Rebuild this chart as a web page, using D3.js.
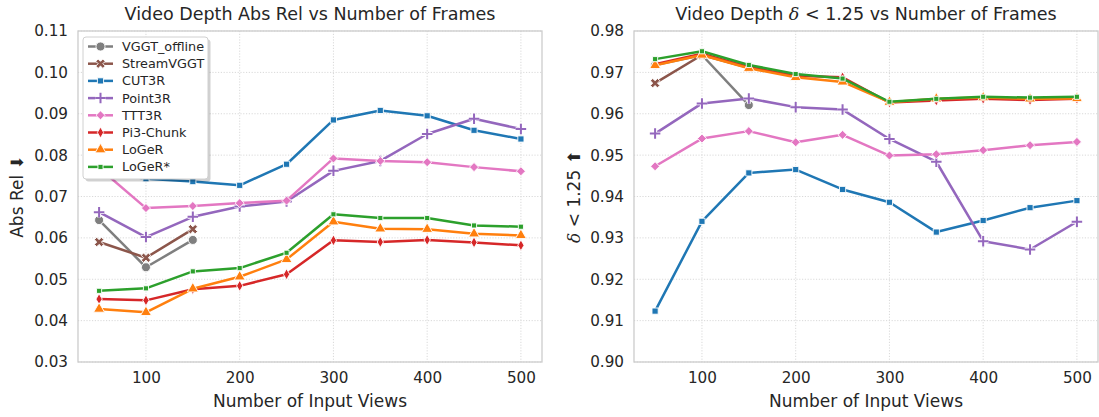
<!DOCTYPE html>
<html>
<head>
<meta charset="utf-8">
<script src="https://cdn.jsdelivr.net/npm/d3@7"></script>
<style>
  html, body { margin: 0; padding: 0; background: #fff; }
  svg { display: block; font-family: "DejaVu Sans", sans-serif; }
</style>
</head>
<body>
<svg id="chart" width="1099" height="417"></svg>
<script>
// ---------------- data ----------------
const views = [50, 100, 150, 200, 250, 300, 350, 400, 450, 500];
const methods = ["VGGT_offline", "StreamVGGT", "CUT3R", "Point3R", "TTT3R", "Pi3-Chunk", "LoGeR", "LoGeR*"];
const colors = ["#7f7f7f", "#8c564b", "#1f77b4", "#9467bd", "#e377c2", "#d62728", "#ff7f0e", "#2ca02c"];
const markers = ["circle", "xfill", "square", "plus", "diamond", "thin", "triangle", "smallsquare"];
const xTicks = [100, 200, 300, 400, 500];
const absTicks = [0.03, 0.04, 0.05, 0.06, 0.07, 0.08, 0.09, 0.10, 0.11];
const deltaTicks = [0.90, 0.91, 0.92, 0.93, 0.94, 0.95, 0.96, 0.97, 0.98];

// Abs Rel (lower is better)
const absVGGT      = [0.0643, 0.0529, 0.0595, null, null, null, null, null, null, null];
const absStream    = [0.0590, 0.0552, 0.0621, null, null, null, null, null, null, null];
const absCUT3R     = [0.0760, 0.0743, 0.0736, 0.0727, 0.0778, 0.0885, 0.0908, 0.0895, 0.0860, 0.0839];
const absPoint3R   = [0.0662, 0.0602, 0.0651, 0.0676, 0.0688, 0.0762, 0.0786, 0.0851, 0.0888, 0.0863];
const absTTT3R     = [0.0769, 0.0672, 0.0677, 0.0684, 0.0690, 0.0792, 0.0786, 0.0783, 0.0771, 0.0761];
const absPi3       = [0.0452, 0.0449, 0.0476, 0.0484, 0.0512, 0.0594, 0.0590, 0.0595, 0.0589, 0.0582];
const absLoGeR     = [0.0428, 0.0420, 0.0477, 0.0506, 0.0548, 0.0639, 0.0622, 0.0621, 0.0610, 0.0606];
const absLoGeRStar = [0.0472, 0.0478, 0.0519, 0.0527, 0.0564, 0.0657, 0.0648, 0.0648, 0.0630, 0.0627];

// delta < 1.25 (higher is better)
const dVGGT      = [0.9718, 0.9742, 0.9621, null, null, null, null, null, null, null];
const dStream    = [0.9674, 0.9742, 0.9711, null, null, null, null, null, null, null];
const dCUT3R     = [0.9123, 0.9340, 0.9457, 0.9465, 0.9417, 0.9386, 0.9314, 0.9342, 0.9373, 0.9390];
const dPoint3R   = [0.9552, 0.9625, 0.9637, 0.9616, 0.9610, 0.9539, 0.9484, 0.9292, 0.9272, 0.9339];
const dTTT3R     = [0.9473, 0.9540, 0.9558, 0.9531, 0.9549, 0.9499, 0.9502, 0.9512, 0.9524, 0.9532];
const dPi3       = [0.9720, 0.9745, 0.9713, 0.9692, 0.9688, 0.9627, 0.9632, 0.9636, 0.9633, 0.9636];
const dLoGeR     = [0.9717, 0.9742, 0.9710, 0.9688, 0.9677, 0.9628, 0.9636, 0.9639, 0.9636, 0.9637];
const dLoGeRStar = [0.9732, 0.9751, 0.9718, 0.9696, 0.9685, 0.9629, 0.9636, 0.9641, 0.9639, 0.9641];

const absSeries = [absVGGT, absStream, absCUT3R, absPoint3R, absTTT3R, absPi3, absLoGeR, absLoGeRStar];
const deltaSeries = [dVGGT, dStream, dCUT3R, dPoint3R, dTTT3R, dPi3, dLoGeR, dLoGeRStar];

// ---------------- drawing ----------------
const svg = d3.select("#chart");
const textColor = "#262626";
const gridColor = "#d9d9d9";
const spineColor = "#cccccc";

function markerPath(kind) {
  switch (kind) {
    case "circle": return d3.symbol(d3.symbolCircle, 64)();
    case "xfill": return d3.symbol(d3.symbolCross, 56)();
    case "square": return d3.symbol(d3.symbolSquare, 38)();
    case "plus": return d3.symbol(d3.symbolPlus, 38)();
    case "diamond": return d3.symbol(d3.symbolDiamond2, 52)();
    case "thin": return d3.symbol(d3.symbolDiamond, 34)();
    case "triangle": return d3.symbol(d3.symbolTriangle, 52)();
    case "smallsquare": return d3.symbol(d3.symbolSquare, 26)();
  }
}

function drawMarker(g, kind, color, x, y) {
  const p = markerPath(kind);
  const rot = kind === "xfill" ? ` rotate(45)` : "";
  const t = `translate(${x},${y})${rot}`;
  if (kind === "plus") {
    g.append("path").attr("d", p).attr("transform", t)
      .attr("fill", "none").attr("stroke", "#fff").attr("stroke-width", 3.8);
    g.append("path").attr("d", p).attr("transform", t)
      .attr("fill", "none").attr("stroke", color).attr("stroke-width", 2);
  } else {
    g.append("path").attr("d", p).attr("transform", t)
      .attr("fill", color).attr("stroke", "#fff").attr("stroke-width", 0.9);
  }
}

function panel(opts) {
  const { left, right, top, bottom, yDomain, yTicks, series, title, ylabel, ylabelX } = opts;
  const x = d3.scaleLinear().domain([27.5, 522.5]).range([left, right]);
  const y = d3.scaleLinear().domain(yDomain).range([bottom, top]);
  const g = svg.append("g");

  // grid
  g.append("g").selectAll("line").data(xTicks).join("line")
    .attr("x1", d => x(d)).attr("x2", d => x(d)).attr("y1", top).attr("y2", bottom)
    .attr("stroke", gridColor).attr("stroke-width", 1).attr("stroke-dasharray", "1.2,1.6");
  g.append("g").selectAll("line").data(yTicks).join("line")
    .attr("x1", left).attr("x2", right).attr("y1", d => y(d)).attr("y2", d => y(d))
    .attr("stroke", gridColor).attr("stroke-width", 1).attr("stroke-dasharray", "1.2,1.6");

  // frame
  g.append("rect").attr("x", left).attr("y", top).attr("width", right - left).attr("height", bottom - top)
    .attr("fill", "none").attr("stroke", spineColor).attr("stroke-width", 1.3);

  // axes tick labels via d3 axes (no tick marks)
  const xAxis = d3.axisBottom(x).tickValues(xTicks).tickSize(0).tickPadding(10).tickFormat(d3.format("d"));
  const xg = g.append("g").attr("transform", `translate(0,${bottom})`).call(xAxis);
  xg.select(".domain").remove();
  xg.selectAll("text").attr("font-size", 15.2).attr("fill", textColor).attr("font-family", "DejaVu Sans");

  const yAxis = d3.axisLeft(y).tickValues(yTicks).tickSize(0).tickPadding(10).tickFormat(d3.format(".2f"));
  const yg = g.append("g").attr("transform", `translate(${left},0)`).call(yAxis);
  yg.select(".domain").remove();
  yg.selectAll("text").attr("font-size", 15.2).attr("fill", textColor).attr("font-family", "DejaVu Sans");

  // lines + markers
  const line = d3.line().defined(d => d[1] !== null).x(d => x(d[0])).y(d => y(d[1]));
  series.forEach((vals, i) => {
    const pts = views.map((v, j) => [v, vals[j]]);
    const sg = g.append("g");
    sg.append("path").attr("d", line(pts)).attr("fill", "none")
      .attr("stroke", colors[i]).attr("stroke-width", 2.5).attr("stroke-linejoin", "round").attr("stroke-linecap", "round");
    pts.filter(d => d[1] !== null).forEach(d => drawMarker(sg, markers[i], colors[i], x(d[0]), y(d[1])));
  });

  // title
  const cx = (left + right) / 2;
  const t = g.append("text").attr("x", cx).attr("y", 20).attr("text-anchor", "middle")
    .attr("font-size", 17.5).attr("fill", textColor);
  title.forEach(part => {
    const ts = t.append("tspan").text(part.t);
    if (part.i) ts.attr("font-style", "italic").attr("font-family", "DejaVu Serif");
  });

  // x label
  g.append("text").attr("x", cx).attr("y", 407).attr("text-anchor", "middle")
    .attr("font-size", 17).attr("fill", textColor).text("Number of Input Views");

  // y label
  const yl = g.append("text").attr("transform", `translate(${ylabelX},${(top + bottom) / 2}) rotate(-90)`)
    .attr("text-anchor", "middle").attr("font-size", 17).attr("fill", textColor);
  ylabel.forEach(part => {
    const ts = yl.append("tspan").text(part.t);
    if (part.i) ts.attr("font-style", "italic").attr("font-family", "DejaVu Serif");
  });
  return { x, y };
}

panel({
  left: 78, right: 542, top: 31, bottom: 362,
  yDomain: [0.03, 0.11], yTicks: absTicks, series: absSeries,
  title: [{ t: "Video Depth Abs Rel vs Number of Frames" }],
  ylabel: [{ t: "Abs Rel \u2B07" }], ylabelX: 23
});

panel({
  left: 634, right: 1098, top: 31, bottom: 362,
  yDomain: [0.90, 0.98], yTicks: deltaTicks, series: deltaSeries,
  title: [{ t: "Video Depth " }, { t: "\u03B4", i: true }, { t: " < 1.25 vs Number of Frames" }],
  ylabel: [{ t: "\u03B4", i: true }, { t: " < 1.25 \u2B06" }], ylabelX: 580
});

// legend (left panel)
const lg = svg.append("g");
const lx = 83, ly = 37, lw = 125, lh = 142;
lg.append("rect").attr("x", lx + 2.5).attr("y", ly + 2.5).attr("width", lw).attr("height", lh).attr("rx", 3)
  .attr("fill", "#000").attr("opacity", 0.18);
lg.append("rect").attr("x", lx).attr("y", ly).attr("width", lw).attr("height", lh).attr("rx", 3)
  .attr("fill", "#fff").attr("stroke", "#d0d0d0").attr("stroke-width", 1);
methods.forEach((m, i) => {
  const yy = 46.5 + i * 17.2;
  lg.append("line").attr("x1", 88).attr("x2", 113).attr("y1", yy).attr("y2", yy)
    .attr("stroke", colors[i]).attr("stroke-width", 2.5);
  drawMarker(lg, markers[i], colors[i], 100.5, yy);
  lg.append("text").attr("x", 122).attr("y", yy + 4.5).attr("font-size", 12.8).attr("fill", textColor).text(m);
});
</script>
</body>
</html>
